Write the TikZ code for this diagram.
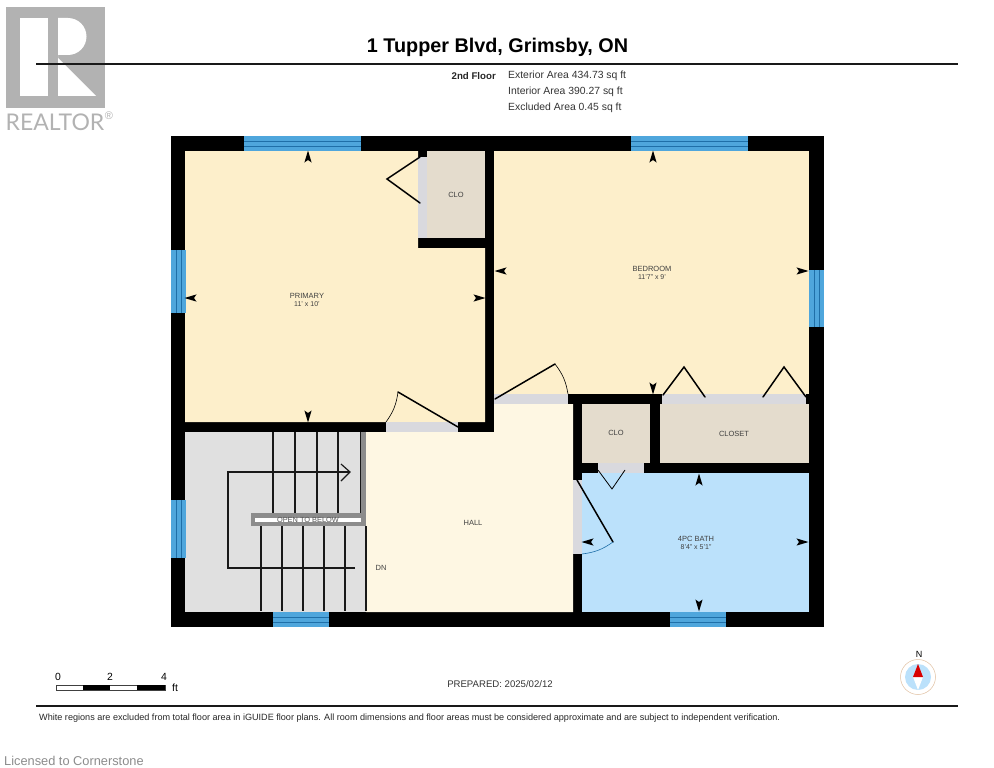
\documentclass[tikz,border=0pt]{standalone}
\usepackage{fontspec}
\setmainfont{Liberation Sans}
\newfontfamily\logofont{Lato}
\definecolor{wingold}{HTML}{FDEFCB}
\definecolor{hallcream}{HTML}{FEF7E3}
\definecolor{closettan}{HTML}{E4DCCD}
\definecolor{bathblue}{HTML}{BBE1FB}
\definecolor{stairgrey}{HTML}{E0E0E0}
\definecolor{doorgrey}{HTML}{D9D9DE}
\definecolor{glassblue}{HTML}{4FA6DC}
\definecolor{glassline}{HTML}{1F6FA8}
\definecolor{logogrey}{HTML}{B2B2B2}
\newcommand{\dimsize}{\fontsize{7}{8}\selectfont}
\tikzset{
  roomlabel/.style={font=\fontsize{7.5}{8}\selectfont,text=black!75,align=center,inner sep=0pt},
  arealabel/.style={font=\fontsize{10.4}{11}\selectfont,text=black!80,anchor=west,inner sep=0pt},
  leaf/.style={line width=1.5pt,line cap=round},
  swing/.style={line width=0.6pt},
  tread/.style={line width=1.2pt,black!90},
  rule/.style={line width=2pt,black!90},
}
\begin{document}
\begin{tikzpicture}[x=1pt,y=-1pt]
    \useasboundingbox (0,0) rectangle (994,768);

    % logo
    \fill[logogrey] (6,7) rectangle (105,108);
    \fill[white] (20,18) rectangle (48,96);
    \fill[white] (58,18) -- (68,18) arc[start angle=-90,end angle=90,radius=18.5] -- (58,55) -- (58,58) -- (96,96) -- (58,96) -- cycle;
    \node[font=\logofont\fontsize{23}{23}\selectfont,text=logogrey,inner sep=0pt] (realtor) at (55,122) {REALTOR};
    \node[font=\fontsize{11}{11}\selectfont,text=logogrey,inner sep=0pt] (regmark) at (109,116) {®};

    % title
    \node[font=\bfseries\fontsize{19.8}{20}\selectfont,inner sep=0pt] (title) at (497.5,47) {1 Tupper Blvd, Grimsby, ON};
    \draw[rule] (36,64) -- (958,64);
    \node[font=\bfseries\fontsize{9.7}{10}\selectfont,text=black!85,anchor=east,inner sep=0pt] (floor) at (496,76) {2nd Floor};
    \node[arealabel] (exterior) at (508,76) {Exterior Area 434.73 sq ft};
    \node[arealabel] (interior) at (508,92) {Interior Area 390.27 sq ft};
    \node[arealabel] (excluded) at (508,108) {Excluded Area 0.45 sq ft};

    % walls and rooms
    \fill[black] (171,136) rectangle (824,627);
    \fill[wingold] (185,151) -- (418,151) -- (418,248) -- (485,248) -- (485,422) -- (185,422) -- cycle;
    \fill[wingold] (494,151) rectangle (809,394);
    \fill[closettan] (427,151) rectangle (485,238);
    \fill[closettan] (582,404) rectangle (650,463);
    \fill[closettan] (660,404) rectangle (809,463);
    \fill[bathblue] (582,473) rectangle (809,612);
    \fill[hallcream] (366,432) -- (494,432) -- (494,404) -- (573,404) -- (573,612) -- (366,612) -- cycle;
    \fill[stairgrey] (185,432) rectangle (366,612);

    % door openings
    \foreach \xa/\ya/\xb/\yb in {418/157/427/238,386/422/458/432,494/394/568/404,662/394/806/404,598/463/644/473,573/480/582/554}
      \fill[doorgrey] (\xa,\ya) rectangle (\xb,\yb);

    % windows
    \foreach \xa/\xb/\ya in {244/361/136,631/748/136,273/329/612,670/726/612} {
      \fill[glassblue] (\xa,\ya) rectangle (\xb,\ya+15);
      \draw[glassline,line width=0.9pt] (\xa,\ya+5.5) -- (\xb,\ya+5.5) (\xa,\ya+10.5) -- (\xb,\ya+10.5);
    }
    \foreach \ya/\yb/\xa in {250/313/171,500/558/171,270/327/809} {
      \fill[glassblue] (\xa,\ya) rectangle (\xa+15,\yb);
      \draw[glassline,line width=0.9pt] (\xa+5.5,\ya) -- (\xa+5.5,\yb) (\xa+10.5,\ya) -- (\xa+10.5,\yb);
    }

    % door leaves
    \draw[leaf] (420,157) -- (387,179) -- (420,203);
    \draw[leaf] (458,427) -- (398,392);
    \draw[swing] (398,392) to[bend left=14] (386,422);
    \draw[leaf] (495,399) -- (555,364);
    \draw[swing] (555,364) to[bend left=14] (568,394);
    \draw[leaf] (663,395) -- (684,367) -- (705,397);
    \draw[leaf] (763,397) -- (784,367) -- (806,397);
    \draw[line width=0.8pt] (598,470) -- (612,489) -- (625,470);
    \draw[leaf] (577,480) -- (613,542);
    \draw[swing,glassline] (613,542) to[bend left=14] (582,554);

    % stairs
    \foreach \x in {273,295,317,338,361}
      \draw[tread] (\x,432) -- (\x,513);
    \foreach \x in {261,282,303,324,345,366}
      \draw[tread] (\x,526) -- (\x,611);
    \fill[black!45] (361,432) rectangle (366,526);
    \fill[black!45] (251,513) rectangle (366,526);
    \fill[white] (255,518) rectangle (361,522);
    \draw[tread,line join=miter] (355,568) -- (228,568) -- (228,472) -- (350,472);
    \draw[tread] (341,464) -- (350,472) -- (341,481);
    \node[font=\fontsize{7.4}{8}\selectfont,text=black!65,inner sep=0pt] (below) at (308,520) {OPEN TO BELOW};

    % dimension ticks
    \foreach \x/\y/\a in {308/157/0,653/157/0,699/480/0,308/416/180,653/388/180,699/605/180,191/298/90,501/271/90,588/542/90,479/298/-90,802/271/-90,802/542/-90}
      \fill[black,shift={(\x,\y)},rotate=\a] (0,-6.5) -- (3.6,5.5) -- (0,3) -- (-3.6,5.5) -- cycle;

    % room labels
    \node[roomlabel] (primary) at (307,299.5) {PRIMARY\\\dimsize 11' x 10'};
    \node[roomlabel] (bedroom) at (652,273) {BEDROOM\\\dimsize 11'7" x 9'};
    \node[roomlabel] (clotop) at (456,195) {CLO};
    \node[roomlabel] (clolow) at (616,433) {CLO};
    \node[roomlabel] (closet) at (734,434) {CLOSET};
    \node[roomlabel] (bath) at (696,542.5) {4PC BATH\\\dimsize 8'4" x 5'1"};
    \node[roomlabel] (hall) at (473,523) {HALL};
    \node[roomlabel] (dn) at (381,568) {DN};

    % scale bar
    \draw[line width=0.7pt,black!75] (56,685) rectangle (165,690);
    \fill[black] (83,685) rectangle (110,690);
    \fill[black] (137,685) rectangle (165,690);
    \foreach \x/\t in {58/0,110/2,164/4}
      \node[font=\fontsize{10.4}{11}\selectfont,inner sep=0pt] (scale\t) at (\x,677) {\t};
    \node[font=\fontsize{10.4}{11}\selectfont,inner sep=0pt] (scaleunit) at (175,687.5) {ft};

    % date and note
    \node[font=\fontsize{9.6}{10}\selectfont,text=black!80,inner sep=0pt] (prepared) at (500,684) {PREPARED: 2025/02/12};
    \draw[rule] (36,706) -- (958,706);
    \node[font=\fontsize{9.1}{10}\selectfont,text=black!85,anchor=west,inner sep=0pt] (note) at (39,718) {White regions are excluded from total floor area in iGUIDE floor plans. All room dimensions and floor areas must be considered approximate and are subject to independent verification.};
    \node[font=\fontsize{12.8}{13}\selectfont,text=black!45,anchor=west,inner sep=0pt] (licensed) at (4,761) {Licensed to Cornerstone};

    % compass
    \draw[line width=0.5pt,brown!50] (918,677) circle (17.5);
    \fill[bathblue] (918,677) circle (13);
    \fill[white] (913,677) -- (918,690) -- (923,677) -- cycle;
    \fill[red!85!black] (913,677) -- (918,664) -- (923,677) -- cycle;
    \node[font=\fontsize{9}{9}\selectfont,inner sep=0pt] (north) at (919,654) {N};
\end{tikzpicture}
\end{document}
